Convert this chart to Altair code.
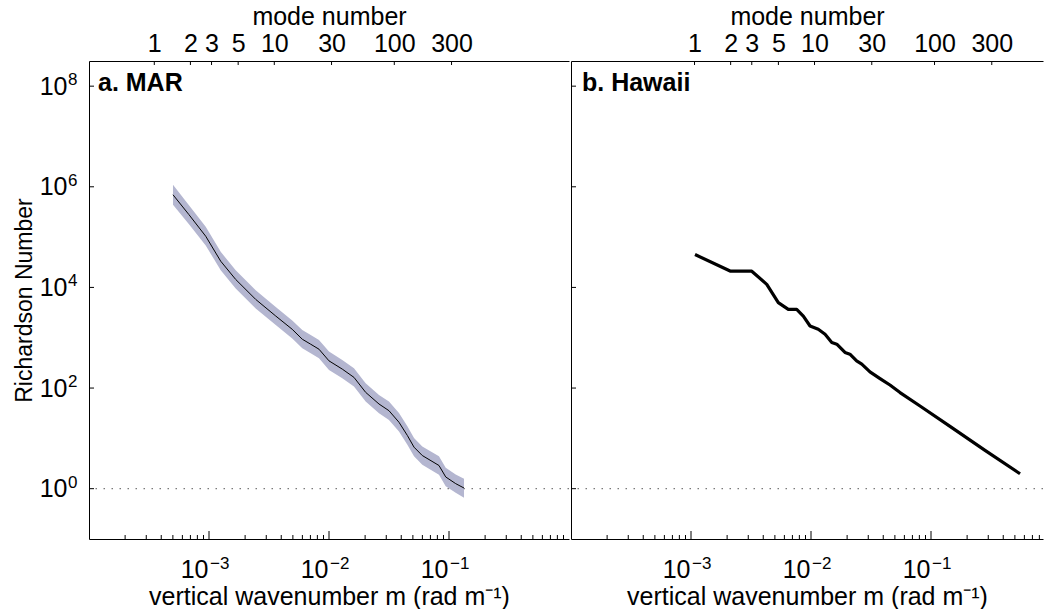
import altair as alt
import pandas as pd

FONT = "Liberation Sans"

# ---------------- data ----------------
# a. MAR : vertical wavenumber (rad/m), Richardson number, and its shaded range
mar_m = [5.01e-4, 6.81e-4, 9.39e-4, 1.252e-3, 1.669e-3, 2.45e-3, 3.60e-3, 4.94e-3,
         5.99e-3, 7.04e-3, 8.25e-3, 1.0e-2, 1.29e-2, 1.615e-2, 2.02e-2, 2.61e-2,
         3.16e-2, 3.83e-2, 4.50e-2, 5.11e-2, 5.99e-2, 8.25e-2, 9.39e-2, 0.1137, 0.1334]
mar_ri = [6.95e5, 2.79e5, 1.04e5, 3.32e4, 1.44e4, 5.78e3, 2.70e3, 1.47e3,
          934, 743, 592, 347, 238, 163, 82.2, 48.2,
          35.5, 20.9, 11.4, 6.69, 4.56, 2.89, 1.71, 1.26, 1.03]
mar_hi = [1.1e6, 4.3e5, 1.6e5, 5.1e4, 2.2e4, 8.8e3, 4.1e3, 2.2e3,
          1420, 1130, 900, 530, 362, 248, 125, 73,
          54, 31.8, 17.4, 10.2, 6.9, 4.4, 2.6, 1.92, 1.57]
mar_lo = [4.4e5, 1.8e5, 6.8e4, 2.2e4, 9.5e3, 3.8e3, 1.8e3, 970,
          615, 490, 390, 228, 157, 107, 54, 31.7,
          23.3, 13.7, 7.5, 4.4, 3.0, 1.9, 1.12, 0.83, 0.66]

# b. Hawaii
haw_m = [1.08e-3, 2.14e-3, 3.21e-3, 4.28e-3, 5.34e-3, 6.47e-3, 7.60e-3, 8.63e-3,
         9.82e-3, 1.15e-2, 1.31e-2, 1.49e-2, 1.64e-2, 1.92e-2, 2.11e-2, 2.40e-2,
         2.65e-2, 3.10e-2, 3.76e-2, 4.55e-2, 5.52e-2, 8.10e-2, 0.144, 0.282, 0.552]
haw_ri = [4.50e4, 2.10e4, 2.10e4, 1.15e4, 4.98e3, 3.67e3, 3.67e3, 2.70e3,
          1.71e3, 1.47e3, 1.17e3, 803, 743, 509, 471, 347,
          299, 210, 154, 115, 81.4, 44.0, 17.3, 5.79, 1.98]

# wavenumber of mode 1 in each panel (top axis)
mode1_mar = 3.5e-4
mode1_haw = 1.07e-3

panel_labels = ["a. MAR", "b. Hawaii"]
mode_ticks = [1, 2, 3, 5, 10, 30, 100, 300]
x_major = [1e-3, 1e-2, 1e-1]
x_major_exp = ["\u22123", "\u22122", "\u22121"]
x_minor = [k * 10.0 ** e for e in (-4, -3, -2, -1) for k in range(2, 10)]
y_major = [1, 1e2, 1e4, 1e6, 1e8]
y_major_exp = ["0", "2", "4", "6", "8"]
ri_ref = [1]

x_title = "vertical wavenumber m (rad m\u207b\u00b9)"
y_title = "Richardson Number"

# ---------------- layout ----------------
H = 478
W_A = 480
W_B = 472
PX_PER_DEC = 120
XMIN = 1e-4
Y_DOMAIN = [0.1, 10 ** 8.5]
EXP_SIZE = 17
Y_LAB_PAD = 22


def panel(width, label, m1, line_df, band_df, line_width, first):
    xmax = 10 ** (-4 + width / PX_PER_DEC)
    xs = alt.Scale(type="log", domain=[XMIN, xmax], nice=False)
    ys = alt.Scale(type="log", domain=Y_DOMAIN, nice=False)

    x_axis = alt.Axis(orient="bottom", values=x_major, labelExpr="'10'",
                      labelAlign="right", labelOffset=-1,
                      ticks=False, domain=True, domainColor="black", grid=False,
                      labelFontSize=25, labelPadding=38, labelBaseline="alphabetic",
                      title=x_title, titleFontSize=25, titleFontWeight="normal",
                      titlePadding=2, labelFlush=False)
    if first:
        y_axis = alt.Axis(orient="left", values=y_major, labelExpr="'10'",
                          ticks=False, domain=True, domainColor="black", grid=False,
                          labelFontSize=25, labelPadding=Y_LAB_PAD, title=y_title,
                          titleFontSize=23, titleFontWeight="normal", titlePadding=3,
                          labelFlush=False)
    else:
        y_axis = alt.Axis(orient="left", values=y_major, labels=False, ticks=False,
                          domain=True, domainColor="black", grid=False, title=None,
                          minExtent=0, maxExtent=0)

    X = alt.X("m:Q", scale=xs, axis=x_axis)
    Y = alt.Y("ri:Q", scale=ys, axis=y_axis)

    hline = alt.Chart(pd.DataFrame({"ri": ri_ref})).mark_rule(
        color="#7a7a7a", strokeDash=[1.5, 6.5], strokeWidth=1.3).encode(y=Y)

    layers = [hline]
    if band_df is not None:
        band = alt.Chart(band_df).mark_area(color="#b4b6d0", opacity=1).encode(
            x=X, y=alt.Y("lo:Q", scale=ys, axis=y_axis), y2="hi:Q")
        layers.append(band)
    line = alt.Chart(line_df).mark_line(color="black", strokeWidth=line_width,
                                        strokeJoin="round").encode(x=X, y=Y)
    layers.append(line)

    yt = alt.Chart(pd.DataFrame({"ri": y_major})).mark_rule(
        color="black", strokeWidth=1).encode(y=Y, x=alt.value(0), x2=alt.value(5))
    xt_major = alt.Chart(pd.DataFrame({"m": [v for v in x_major if v < xmax]})).mark_rule(
        color="black", strokeWidth=1).encode(x=X, y=alt.value(H), y2=alt.value(H - 8))
    xt_minor = alt.Chart(pd.DataFrame({"m": [v for v in x_minor if v < xmax]})).mark_rule(
        color="black", strokeWidth=1).encode(x=X, y=alt.value(H), y2=alt.value(H - 4))
    # exponents of the bottom tick labels
    xexp = alt.Chart(pd.DataFrame({"m": x_major, "e": x_major_exp})).mark_text(
        align="left", baseline="alphabetic", fontSize=EXP_SIZE, font=FONT,
        color="black", dx=1).encode(x=X, y=alt.value(H + 30), text="e:N")
    txt = alt.Chart(pd.DataFrame({"t": [label]})).mark_text(
        align="left", baseline="alphabetic", fontSize=25, fontWeight="bold",
        font=FONT, color="black").encode(
        text="t:N", x=alt.value(9 if first else 11), y=alt.value(30))
    layers += [yt, xt_major, xt_minor, xexp, txt]
    if first:
        yexp = alt.Chart(pd.DataFrame({"ri": y_major, "e": y_major_exp})).mark_text(
            align="left", baseline="alphabetic", fontSize=EXP_SIZE, font=FONT,
            color="black", dy=-1).encode(y=Y, x=alt.value(-Y_LAB_PAD + 1), text="e:N")
        layers.append(yexp)

    main = alt.layer(*layers)

    mode_axis = alt.Axis(orient="top", values=mode_ticks, format="d", ticks=False,
                         domain=True, domainColor="black", grid=False,
                         labelFontSize=25, labelPadding=10, labelBaseline="alphabetic",
                         title="mode number", titleFontSize=25,
                         titleFontWeight="normal", titlePadding=2, labelFlush=False)
    mode_layer = alt.Chart(pd.DataFrame({"mode": mode_ticks})).mark_rule(
        color="black", strokeWidth=1).encode(
        x=alt.X("mode:Q", scale=alt.Scale(type="log", domain=[XMIN / m1, xmax / m1],
                                          nice=False), axis=mode_axis),
        y=alt.value(0), y2=alt.value(4))

    return alt.layer(main, mode_layer).resolve_scale(x="independent").properties(
        width=width, height=H)


mar_line = pd.DataFrame({"m": mar_m, "ri": mar_ri})
mar_band = pd.DataFrame({"m": mar_m, "lo": mar_lo, "hi": mar_hi})
haw_line = pd.DataFrame({"m": haw_m, "ri": haw_ri})

pa = panel(W_A, panel_labels[0], mode1_mar, mar_line, mar_band, 1.0, True)
pb = panel(W_B, panel_labels[1], mode1_haw, haw_line, None, 3.2, False)

chart = alt.hconcat(pa, pb, spacing=0).properties(
    padding={"left": 13, "top": 4, "right": 0, "bottom": 0},
    background="white",
).configure_view(strokeWidth=0).configure_axis(
    labelFont=FONT, titleFont=FONT, labelColor="black", titleColor="black",
    domainWidth=1,
).configure_text(font=FONT)

chart.save("out.html", embed_options={"renderer": "svg", "actions": False})
